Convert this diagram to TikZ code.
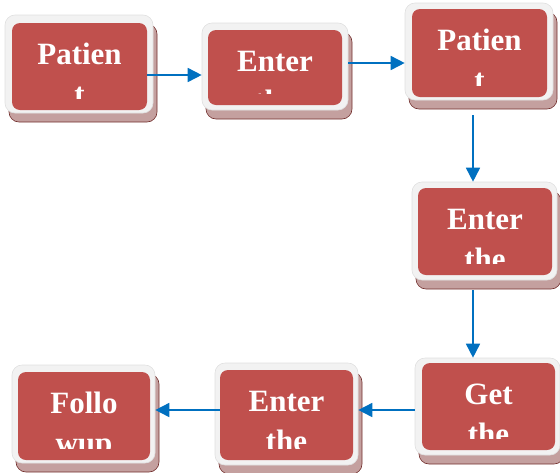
\documentclass[tikz,border=0pt]{standalone}
\usepackage{fontspec}
\setmainfont{Liberation Serif}
\usetikzlibrary{shadows,arrows.meta}
\definecolor{boxred}{HTML}{C0504D}
\definecolor{framegray}{HTML}{F2F2F2}
\definecolor{shadowred}{HTML}{C4A09F}
\definecolor{flowblue}{HTML}{0070C0}
\tikzset{
  outerbox/.style={rounded corners=10pt, fill=framegray, draw=black!12, line width=0.6pt,
    minimum width=146pt, minimum height=98pt, inner sep=0pt,
    drop shadow={shadow xshift=4pt, shadow yshift=-9pt, fill=shadowred, draw=boxred!60!black, opacity=1}},
  stagetext/.style={text=white, font=\fontsize{31}{36}\selectfont\bfseries, inner sep=0pt},
  stage/.style 2 args={rounded corners=8pt, fill=boxred, minimum width=134pt, minimum height=87pt, inner sep=0pt,
    path picture={
      \clip ([yshift=12pt]path picture bounding box.south west) rectangle (path picture bounding box.north east);
      \node[stagetext, anchor=base] at ([yshift=-41pt]path picture bounding box.north) {#1};
      \node[stagetext, anchor=base] at ([yshift=-81pt]path picture bounding box.north) {#2};
    }},
  flow/.style={-{Triangle[length=14pt,width=14pt]}, draw=flowblue, fill=flowblue, line width=1.6pt}
}
\begin{document}
\begin{tikzpicture}[x=1pt, y=-1pt]
  \useasboundingbox (0,0) rectangle (560,472);
  % top row
  \node[outerbox, minimum width=148pt] (o1) at (79,64) {};
  \node[stage={Patien}{t}, minimum width=135pt] (s1) at (79.5,66.5) {};
  \node[outerbox, minimum height=87pt] (o2) at (275,66.5) {};
  \node[stage={Enter}{the}, minimum height=75pt] (s2) at (275,67.5) {};
  \node[outerbox, minimum width=148pt, minimum height=97pt] (o3) at (479,51.5) {};
  \node[stage={Patien}{t}, minimum width=135pt, minimum height=88pt] (s3) at (479.5,53) {};
  % right column
  \node[outerbox, minimum width=145pt] (o4) at (484.5,231) {};
  \node[stage={Enter}{the}] (s4) at (485,231.5) {};
  \node[outerbox, minimum width=145pt, minimum height=97pt] (o5) at (487.5,406.5) {};
  \node[stage={Get}{the}, minimum width=133pt] (s5) at (488.5,406.5) {};
  % bottom row
  \node[outerbox, minimum width=143pt, minimum height=102pt] (o7) at (286.5,414) {};
  \node[stage={Enter}{the}, minimum width=133pt, minimum height=90pt] (s7) at (286.5,415) {};
  \node[outerbox, minimum width=143pt] (o6) at (83.5,414) {};
  \node[stage={Follo}{wup}, minimum width=132pt, minimum height=88pt] (s6) at (84,416) {};
  % connectors
  \draw[flow] ([yshift=-8.5pt]s1.east) -- ([yshift=-8.5pt]o2.west);
  \draw[flow] ([yshift=3.5pt]o2.east) -- ([yshift=3.5pt]o2.east -| o3.west);
  \draw[flow] ([shift={(-6pt,-15pt)}]o3.south) -- ([xshift=-6pt]o3.south |- o4.north);
  \draw[flow] ([shift={(-11.5pt,-10pt)}]o4.south) -- ([xshift=-11.5pt]o4.south |- o5.north);
  \draw[flow] ([yshift=-3.5pt]o5.west) -- ([yshift=-3.5pt]o5.west -| o7.east);
  \draw[flow] ([yshift=5pt]s7.west) -- ([yshift=5pt]s7.west -| o6.east);
\end{tikzpicture}
\end{document}
